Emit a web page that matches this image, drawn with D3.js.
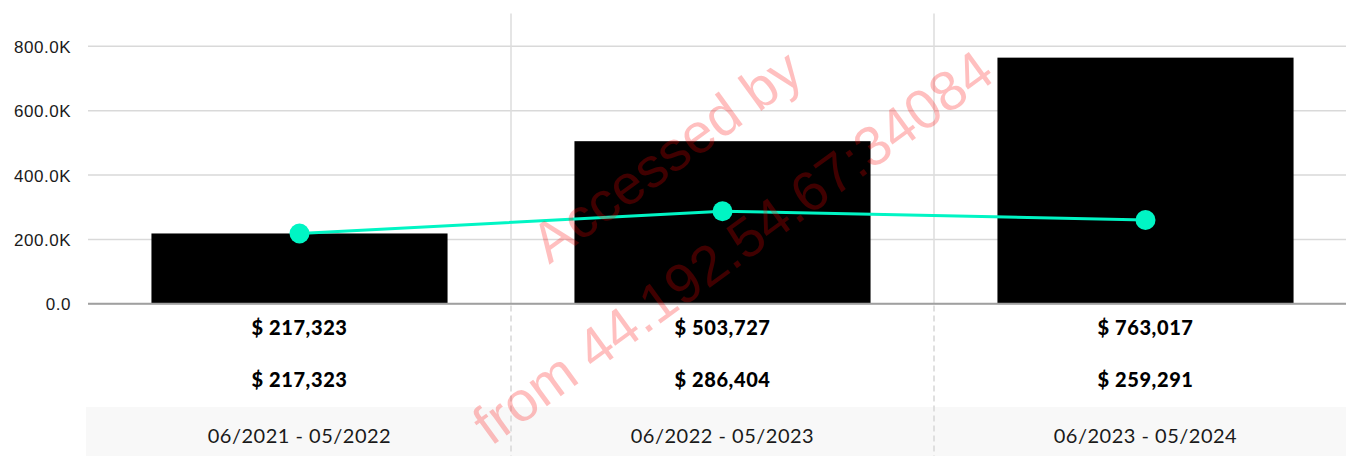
<!DOCTYPE html>
<html>
<head>
<meta charset="utf-8">
<script src="https://cdn.jsdelivr.net/npm/d3@7"></script>
<style>
  body { margin: 0; background: #fff; }
  svg { display: block; font-family: Lato, "Noto Sans", sans-serif; }
</style>
</head>
<body>
<svg width="1346" height="456"></svg>
<script>
var periods = ["06/2021 - 05/2022", "06/2022 - 05/2023", "06/2023 - 05/2024"];
var barValues = [217323, 503727, 763017];
var lineValues = [217323, 286404, 259291];
var yTicks = [0, 200000, 400000, 600000, 800000];

var svg = d3.select("svg"),
    width = +svg.attr("width"),
    height = +svg.attr("height");

var plotLeft = 88, plotTop = 13.5, plotBottom = 303.5;

var x = d3.scaleBand().domain(periods).range([88, 1357])
    .paddingInner(0.3).paddingOuter(0.15);
var step = x.step();
var bandStart = function(d) { return x(d) - x.paddingOuter() * step; };

var y = d3.scaleLinear().domain([0, 900000]).range([plotBottom, plotTop]);

var fmt = function(d) { return d === 0 ? "0.0" : (d / 1000).toFixed(1) + "K"; };
var money = function(d) { return "$ " + d3.format(",")(d); };

// grey band under the category labels
svg.append("rect")
  .attr("x", 86).attr("y", 407)
  .attr("width", width - 86).attr("height", height - 407)
  .attr("fill", "#f8f8f8");

// horizontal grid + y labels
var yAxis = svg.append("g")
  .attr("transform", "translate(" + plotLeft + ",0)")
  .call(d3.axisLeft(y).tickValues(yTicks).tickFormat(fmt)
        .tickSize(-(width - plotLeft)).tickPadding(17));
yAxis.select(".domain").remove();
yAxis.selectAll(".tick line")
  .attr("stroke", function(d) { return d === 0 ? "#a0a0a0" : "#d9d9d9"; })
  .attr("stroke-width", 1.5);
yAxis.selectAll(".tick text")
  .attr("fill", "#1a1a1a").attr("dy", "0.38em")
  .style("font-size", "17px").style("letter-spacing", "0.5px");

// category separators
var seps = periods.slice(1).map(function(d) { return bandStart(d); });
svg.append("g").selectAll("line").data(seps).enter().append("line")
  .attr("x1", function(d) { return d; }).attr("x2", function(d) { return d; })
  .attr("y1", plotTop).attr("y2", plotBottom)
  .attr("stroke", "#dcdcdc").attr("stroke-width", 1.5);
svg.append("g").selectAll("line").data(seps).enter().append("line")
  .attr("x1", function(d) { return d; }).attr("x2", function(d) { return d; })
  .attr("y1", plotBottom + 2).attr("y2", height)
  .attr("stroke", "#d6d6d6").attr("stroke-width", 1.5)
  .attr("stroke-dasharray", "6,4");

// bars
svg.append("g").selectAll("rect").data(barValues).enter().append("rect")
  .attr("x", function(d, i) { return x(periods[i]); })
  .attr("y", function(d) { return y(d); })
  .attr("width", x.bandwidth())
  .attr("height", function(d) { return y(0) - y(d); })
  .attr("fill", "#000");

// zero line on top of bars
svg.append("line")
  .attr("x1", plotLeft).attr("x2", width)
  .attr("y1", y(0)).attr("y2", y(0))
  .attr("stroke", "#a0a0a0").attr("stroke-width", 1.5);

// line series
var cx = function(i) { return x(periods[i]) + x.bandwidth() / 2; };
svg.append("path")
  .datum(lineValues)
  .attr("fill", "none").attr("stroke", "#00f5c4").attr("stroke-width", 3)
  .attr("d", d3.line().x(function(d, i) { return cx(i); }).y(function(d) { return y(d); }));
svg.append("g").selectAll("circle").data(lineValues).enter().append("circle")
  .attr("cx", function(d, i) { return cx(i); })
  .attr("cy", function(d) { return y(d); })
  .attr("r", 10).attr("fill", "#00f5c4");

// table rows
var rows = [barValues, lineValues];
rows.forEach(function(vals, r) {
  svg.append("g").selectAll("text").data(vals).enter().append("text")
    .attr("x", function(d, i) { return cx(i); })
    .attr("y", 335 + r * 52)
    .attr("text-anchor", "middle")
    .attr("fill", "#000")
    .style("font-size", "20px").style("font-weight", "900")
    .style("letter-spacing", "0.6px")
    .text(money);
});
svg.append("g").selectAll("text").data(periods).enter().append("text")
  .attr("x", function(d, i) { return cx(i); })
  .attr("y", 443)
  .attr("text-anchor", "middle")
  .attr("fill", "#1a1a1a")
  .style("font-size", "20px").style("letter-spacing", "0.5px")
  .text(function(d) { return d; });

// watermark
var wm = svg.append("g")
  .attr("transform", "translate(710,216) rotate(-36)")
  .style("font-family", "'Liberation Sans', Arial, sans-serif")
  .style("font-size", "56px")
  .attr("fill", "rgba(255,0,0,0.25)")
  .attr("text-anchor", "middle");
wm.append("text").attr("y", -55).text("Accessed by");
wm.append("text").attr("y", 58).text("from 44.192.54.67:34084");
</script>
</body>
</html>
